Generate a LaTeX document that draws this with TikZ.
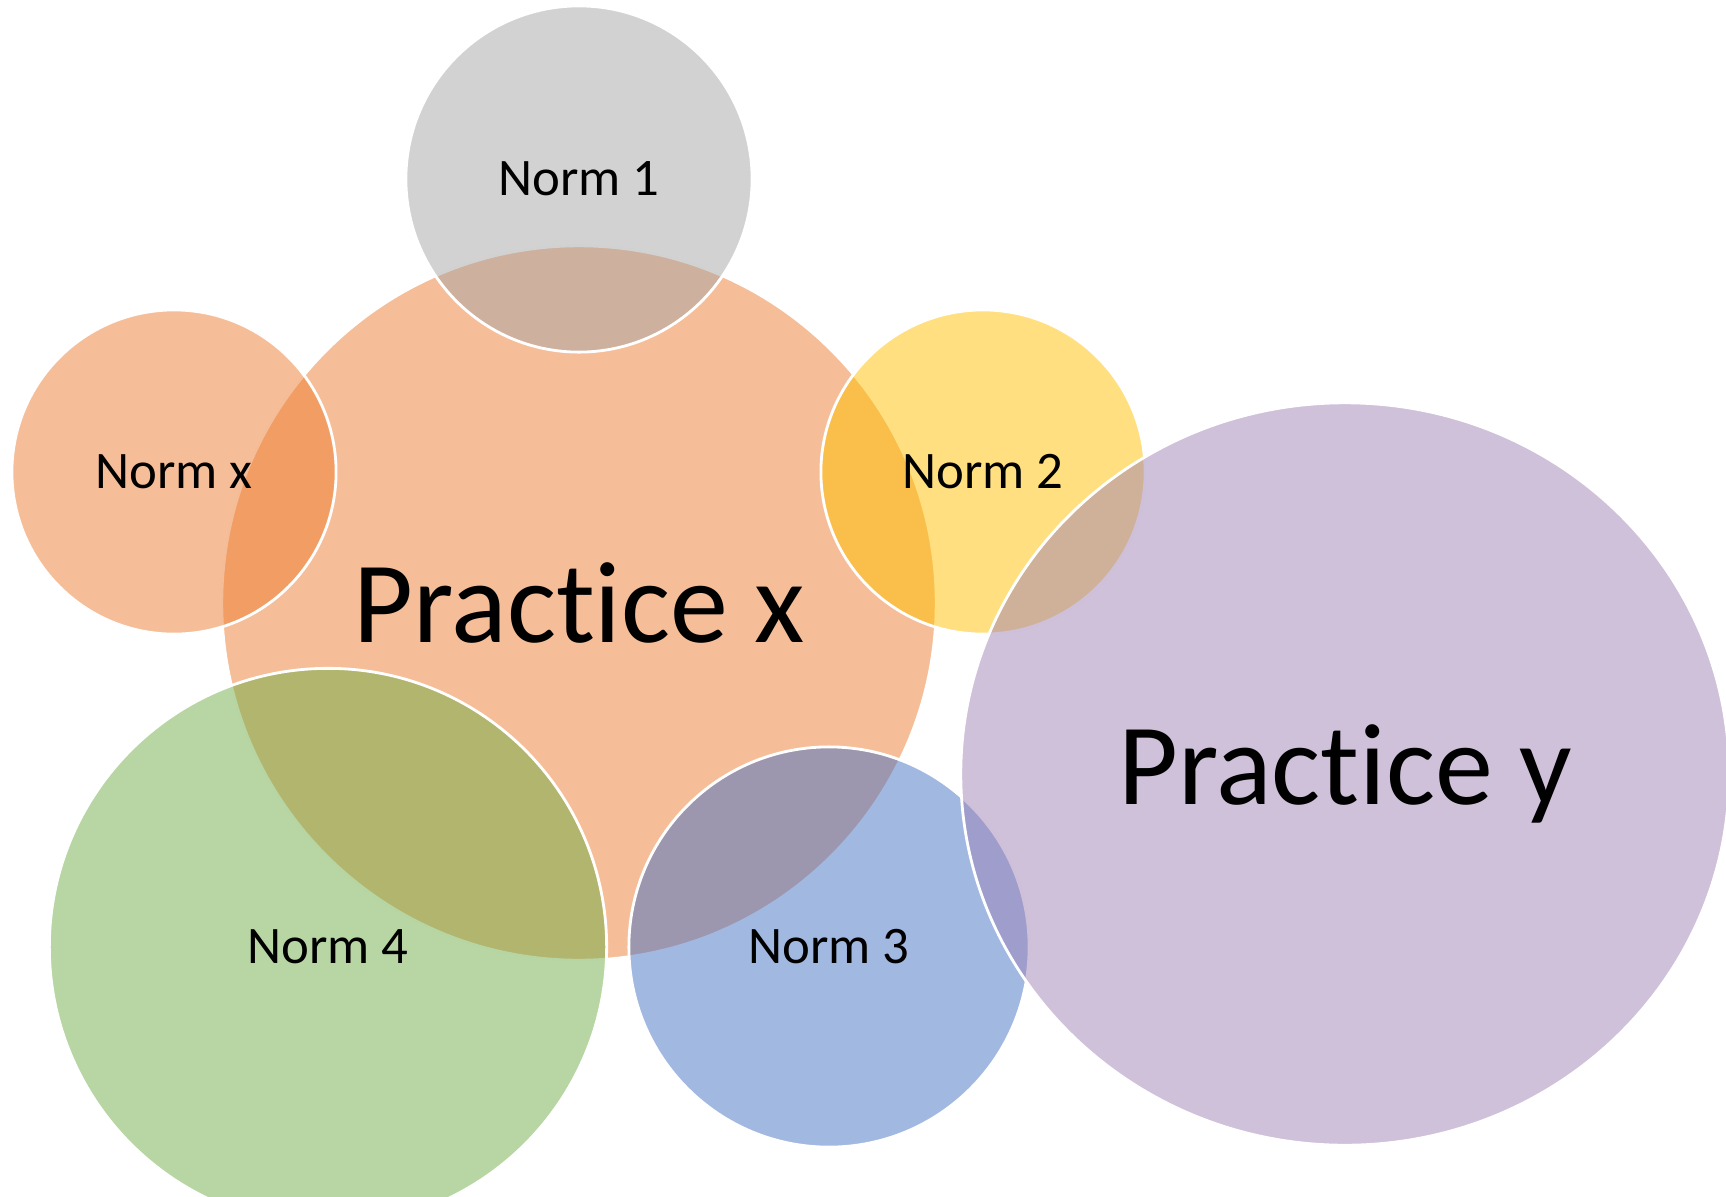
\documentclass[tikz,border=0pt]{standalone}
\usepackage{fontspec}
\setmainfont{Carlito}[Ligatures=NoCommon]
\usetikzlibrary{shapes.geometric}
\usepackage{xcolor}
\definecolor{pxorange}{HTML}{ED7D31}
\definecolor{normgray}{HTML}{A5A5A5}
\definecolor{normgold}{HTML}{FFC000}
\definecolor{normblue}{HTML}{4472C4}
\definecolor{normgreen}{HTML}{70AD47}
\definecolor{pypurple}{HTML}{9F83B5}

\begin{document}
\begin{tikzpicture}[x=0.01cm, y=-0.01cm,
  every node/.style = {inner sep=0pt, draw=white, line width=0.8pt,
    fill opacity=0.5, text opacity=1, align=center},
  norm/.style = {circle, font=\fontsize{15}{18}\selectfont},
  practice/.style = {font=\fontsize{33}{40}\selectfont}
  ]
  \useasboundingbox (0,0) rectangle (1726,1196);
  % the central practice, then the norms laid over it
  \node[practice, circle, fill=pxorange, minimum size=7.14cm] (px) at (579,603) {Practice x};
  \node[norm, fill=normgray, minimum size=3.46cm] (n1) at (579,179) {Norm 1};
  \node[norm, fill=normgold, minimum size=3.24cm] (n2) at (983,472) {Norm 2};
  \node[norm, fill=normblue, minimum size=4.00cm] (n3) at (829,947) {Norm 3};
  \node[norm, fill=normgreen, minimum size=5.57cm] (n4) at (328,947) {Norm 4};
  \node[norm, fill=pxorange, minimum size=3.24cm] (nx) at (174,472) {Norm x};
  % the second practice
  \node[practice, ellipse, fill=pypurple, minimum width=7.68cm, minimum height=7.42cm] (py) at (1345,774) {Practice y};
\end{tikzpicture}
\end{document}
